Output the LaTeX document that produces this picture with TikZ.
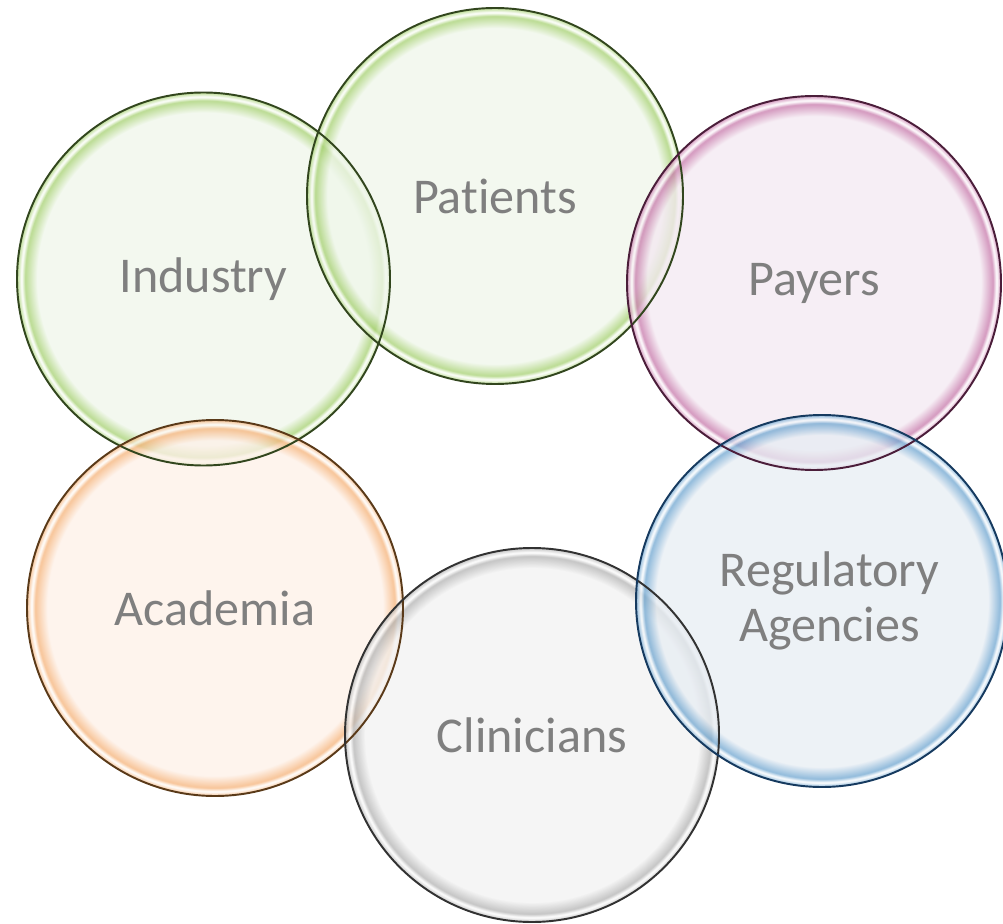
\documentclass[tikz,border=0pt]{standalone}
\usepackage{fontspec}
\setmainfont[Ligatures={NoCommon}]{Carlito}
\usetikzlibrary{positioning,calc}

\definecolor{labelgray}{RGB}{127,127,127}
\definecolor{greentint}{RGB}{239,246,234}
\definecolor{greenrim}{RGB}{165,208,112}
\definecolor{greenedge}{RGB}{50,70,30}
\definecolor{pinktint}{RGB}{243,232,241}
\definecolor{pinkrim}{RGB}{198,120,170}
\definecolor{pinkedge}{RGB}{75,30,58}
\definecolor{orangetint}{RGB}{254,240,231}
\definecolor{orangerim}{RGB}{245,178,120}
\definecolor{orangeedge}{RGB}{90,58,25}
\definecolor{graytint}{RGB}{242,242,242}
\definecolor{grayrim}{RGB}{178,178,178}
\definecolor{grayedge}{RGB}{50,50,50}
\definecolor{bluetint}{RGB}{231,237,243}
\definecolor{bluerim}{RGB}{110,165,208}
\definecolor{blueedge}{RGB}{22,58,95}

% glass bubble: pale inside, coloured band and highlight near the rim
\newcommand{\declarebubble}[3]{%
  \pgfdeclareradialshading{#1}{\pgfpoint{0bp}{0bp}}{%
    color(0bp)=(#2); color(22.3bp)=(#2); color(23.9bp)=(#3);
    color(24.4bp)=(white); color(25bp)=(#3)}}
\declarebubble{greenbubble}{greentint}{greenrim}
\declarebubble{pinkbubble}{pinktint}{pinkrim}
\declarebubble{orangebubble}{orangetint}{orangerim}
\declarebubble{graybubble}{graytint}{grayrim}
\declarebubble{bluebubble}{bluetint}{bluerim}

\tikzset{
  bubble/.style={circle, inner sep=0pt, outer sep=0pt, fill opacity=0.75,
    text opacity=1, text=labelgray, align=center,
    font=\fontsize{28.5}{31}\selectfont},
}

\begin{document}
\begin{tikzpicture}
\useasboundingbox (0,0) rectangle (20.06,18.46);
\node[bubble, shading=greenbubble, minimum size=7.46cm]
  (industry) at (4.07,12.88) {Industry};
\node[bubble, shading=greenbubble, minimum size=7.52cm]
  (patients) at (9.90,14.54) {Patients};
\node[bubble, shading=pinkbubble, minimum size=7.48cm]
  (payers) at (16.28,12.80) {Payers};
\node[bubble, shading=orangebubble, minimum size=7.52cm]
  (academia) at (4.30,6.30) {Academia};
\node[bubble, shading=graybubble, minimum size=7.48cm]
  (clinicians) at (10.64,3.76) {Clinicians};
\node[bubble, shading=bluebubble, minimum size=7.44cm]
  (regulatory) at (16.44,6.44) {\hspace*{0.3cm}Regulatory\\\hspace*{0.3cm}Agencies};
% outlines on top, so that they show through the overlaps
\foreach \b/\c in {industry/greenedge, patients/greenedge, payers/pinkedge,
    academia/orangeedge, clinicians/grayedge, regulatory/blueedge}
  \draw[\c, line width=1.1pt] let \p1=(\b.east), \p2=(\b.center) in
    (\p2) circle[radius=\x1-\x2];
\end{tikzpicture}
\end{document}
